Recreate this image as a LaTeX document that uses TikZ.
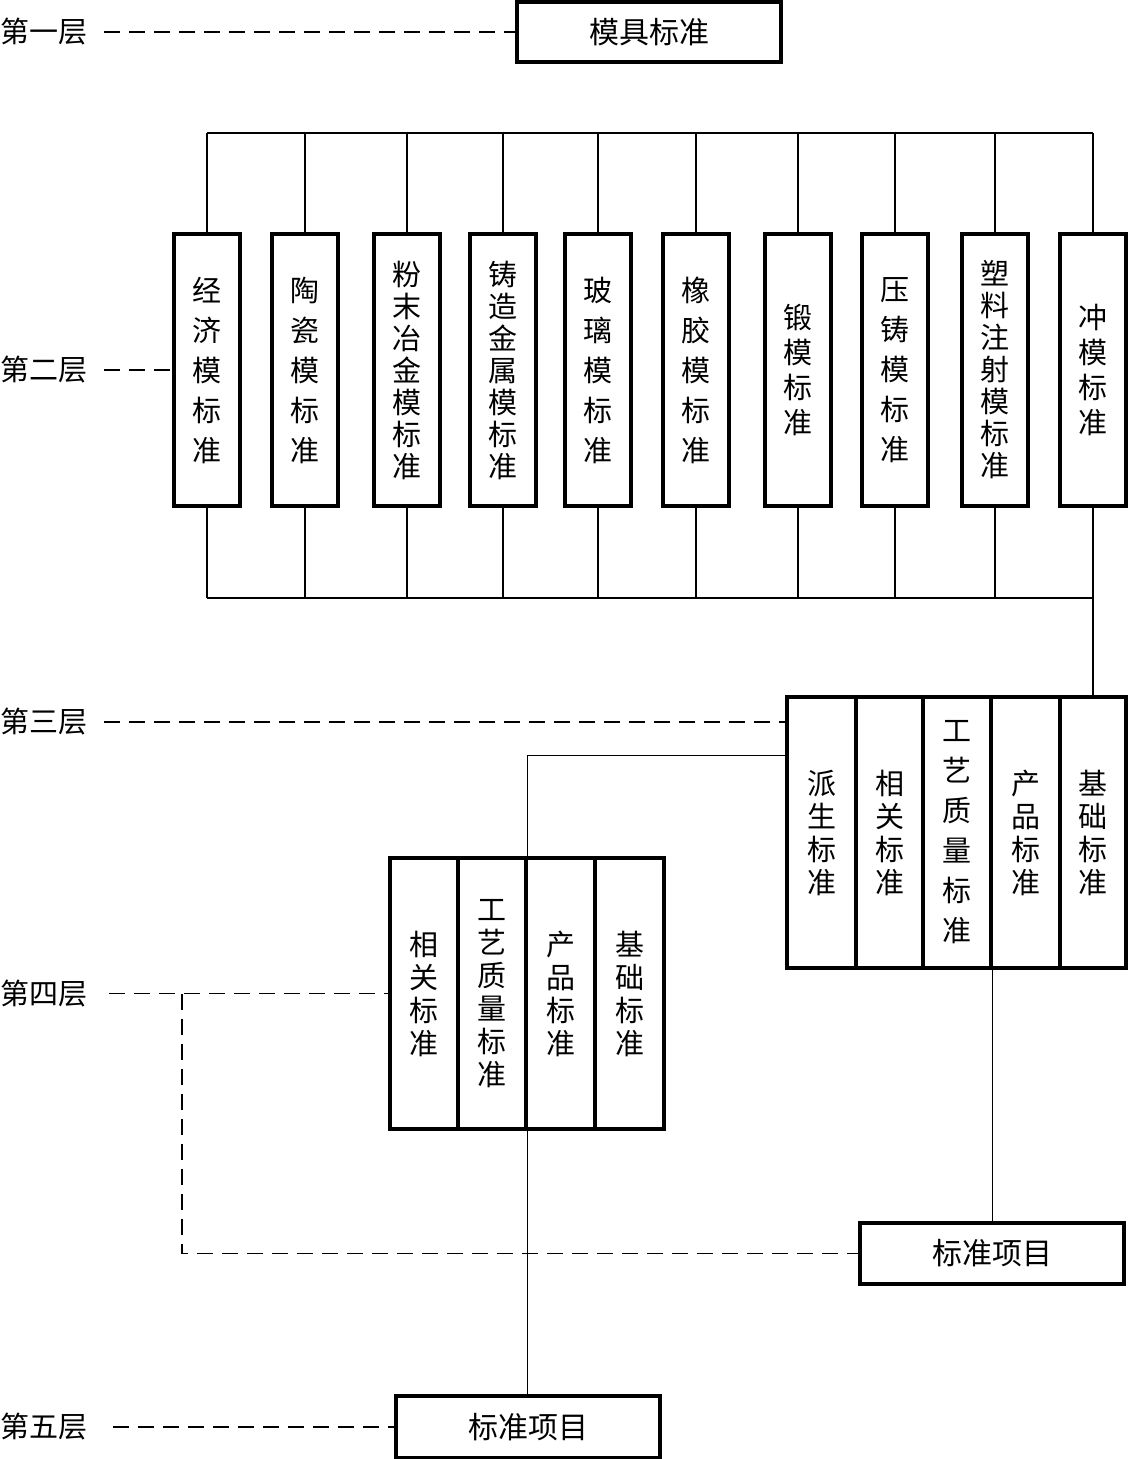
\documentclass[tikz,border=0pt]{standalone}
\usepackage{fontspec}
\newfontfamily\cjk{Noto Sans CJK SC}
\begin{document}
\begin{tikzpicture}[x=1pt,y=-1pt,
  box/.style={draw, line width=3.3pt, inner sep=0pt, align=center, font=\cjk\fontsize{29}{40}\selectfont},
  lvbox/.style={box, minimum width=66pt, minimum height=272pt},
  sp40/.style={font=\cjk\fontsize{29}{40}\selectfont},
  sp35/.style={font=\cjk\fontsize{29}{35}\selectfont},
  sp33/.style={font=\cjk\fontsize{29}{33}\selectfont},
  sp32/.style={font=\cjk\fontsize{29}{32}\selectfont},
  hbox/.style={box, minimum width=264pt, font=\cjk\fontsize{30}{34}\selectfont},
  lab/.style={anchor=west, inner sep=0pt, font=\cjk\fontsize{29}{34}\selectfont},
  conn/.style={line width=1.3pt},
  dsh/.style={line width=1.6pt, dash pattern=on 16pt off 9pt}
]
\useasboundingbox (0,0) rectangle (1128,1459);
% level 1
\node[hbox, minimum height=60pt] (top) at (649,32) {模具标准};
% level 2
\node[lvbox, sp40] (b1) at (207,370) {经\\济\\模\\标\\准};
\node[lvbox, sp40] (b2) at (305,370) {陶\\瓷\\模\\标\\准};
\node[lvbox, sp32] (b3) at (407,370) {粉\\末\\冶\\金\\模\\标\\准};
\node[lvbox, sp32] (b4) at (503,370) {铸\\造\\金\\属\\模\\标\\准};
\node[lvbox, sp40] (b5) at (598,370) {玻\\璃\\模\\标\\准};
\node[lvbox, sp40] (b6) at (696,370) {橡\\胶\\模\\标\\准};
\node[lvbox, sp35] (b7) at (798,370) {锻\\模\\标\\准};
\node[lvbox, sp40] (b8) at (895,370) {压\\铸\\模\\标\\准};
\node[lvbox, sp32] (b9) at (995,370) {塑\\料\\注\\射\\模\\标\\准};
\node[lvbox, sp35] (b10) at (1093,370) {冲\\模\\标\\准};
% level 3
\node[box, sp33, minimum width=69pt, minimum height=271pt] (c1) at (821.5,832.5) {派\\生\\标\\准};
\node[box, sp33, minimum width=67pt, minimum height=271pt] (c2) at (889.5,832.5) {相\\关\\标\\准};
\node[box, sp40, minimum width=68pt, minimum height=271pt] (c3) at (957,832.5) {工\\艺\\质\\量\\标\\准};
\node[box, sp33, minimum width=69pt, minimum height=271pt] (c4) at (1025.5,832.5) {产\\品\\标\\准};
\node[box, sp33, minimum width=66pt, minimum height=271pt] (c5) at (1093,832.5) {基\\础\\标\\准};
% level 4
\node[box, sp33, minimum width=68pt, minimum height=271pt] (d1) at (424,993.5) {相\\关\\标\\准};
\node[box, sp33, minimum width=68pt, minimum height=271pt] (d2) at (492,993.5) {工\\艺\\质\\量\\标\\准};
\node[box, sp33, minimum width=69pt, minimum height=271pt] (d3) at (560.5,993.5) {产\\品\\标\\准};
\node[box, sp33, minimum width=69pt, minimum height=271pt] (d4) at (629.5,993.5) {基\\础\\标\\准};
% standard items
\node[hbox, minimum height=61pt] (p1) at (992,1253.5) {标准项目};
\node[hbox, minimum height=62pt] (p2) at (528,1427) {标准项目};
% level labels
\node[lab] (l1) at (0,32) {第一层};
\node[lab] (l2) at (0,370) {第二层};
\node[lab] (l3) at (0,722) {第三层};
\node[lab] (l4) at (0,993.5) {第四层};
\node[lab] (l5) at (0,1427) {第五层};
\coordinate (bustop) at (0,133);
\coordinate (busbot) at (0,598);
\coordinate (k4) at (182,993.5);
% buses
\foreach \i in {1,...,10}{
  \draw[conn] (b\i.north) -- (b\i.north |- bustop);
  \draw[conn] (b\i.south) -- (b\i.south |- busbot);
}
\draw[conn] (b1.north |- bustop) -- (b10.north |- bustop);
\draw[conn] (b1.south |- busbot) -- (b10.south |- busbot);
\draw[conn] (b10.south |- busbot) -- (c5.north);
% level 3 to 4
\draw[conn] ([yshift=-60pt]c1.north west) -| (d2.north east);
\draw[conn] (c3.south east) -- (c3.south east |- p1.north);
\draw[conn] (d2.south east) -- (d2.south east |- p2.north);
% dashed level lines
\draw[dsh] ([xshift=17pt]l1.east) -- (top.west);
\draw[dsh] ([xshift=17pt]l2.east) -- (b1.west);
\draw[dsh] ([xshift=17pt]l3.east) -- (c1.west |- l3.east);
\draw[dsh] ([xshift=22pt]l4.east) -- (d1.west);
\draw[dsh] (k4) |- (p1.west);
\draw[dsh] ([xshift=26pt]l5.east) -- (p2.west);
\end{tikzpicture}
\end{document}
